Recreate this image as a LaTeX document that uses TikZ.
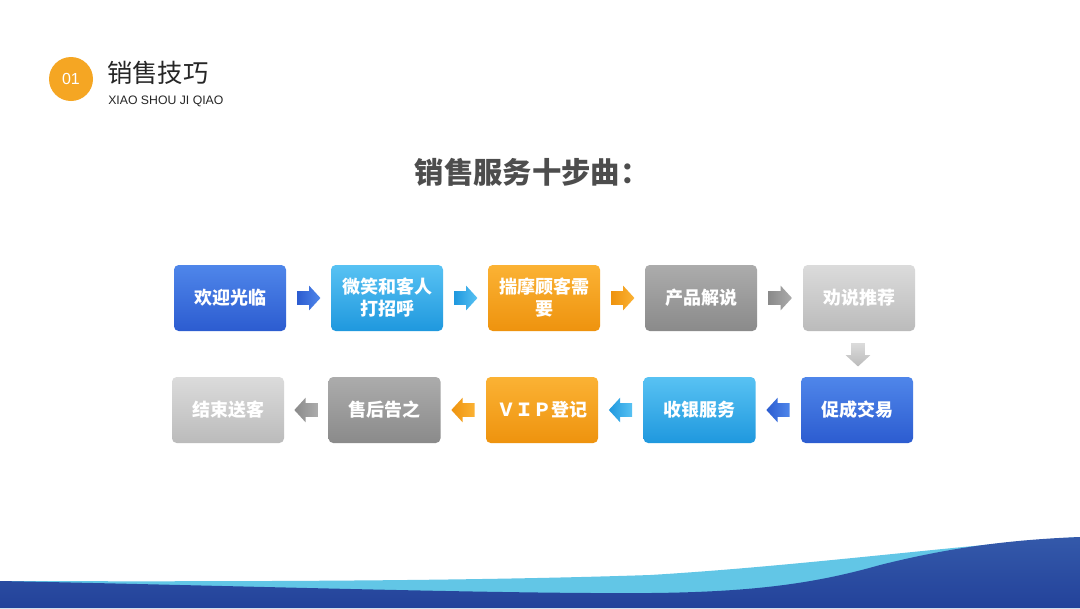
\documentclass[tikz,border=0pt]{standalone}
\usepackage{fontspec}
\setmainfont{Liberation Sans}
\newfontfamily\cjk{Noto Sans CJK SC}
\usetikzlibrary{shapes.arrows,calc}
\definecolor{bA}{HTML}{4F86EA}\definecolor{bB}{HTML}{2C5CD0}
\definecolor{lA}{HTML}{58C2F3}\definecolor{lB}{HTML}{1F98DE}
\definecolor{oA}{HTML}{FBB234}\definecolor{oB}{HTML}{EE930E}
\definecolor{gA}{HTML}{ACACAC}\definecolor{gB}{HTML}{8A8A8A}
\definecolor{hA}{HTML}{DBDBDB}\definecolor{hB}{HTML}{BBBBBB}
\definecolor{titlegray}{HTML}{4D4D4D}
\definecolor{circ}{HTML}{F5A623}
\definecolor{waveDarkA}{HTML}{3459AA}
\definecolor{waveDarkB}{HTML}{23429A}
\definecolor{waveLight}{HTML}{62C6E6}
\tikzset{
  stepbox/.style={rounded corners=3.5pt, minimum width=84pt, minimum height=49.5pt,
    text width=80pt, align=center, inner sep=0pt, text=white,
    font=\cjk\bfseries\fontsize{13.5}{16.5}\selectfont},
  cblue/.style={top color=bA, bottom color=bB},
  clblue/.style={top color=lA, bottom color=lB},
  corange/.style={top color=oA, bottom color=oB},
  cgray/.style={top color=gA, bottom color=gB},
  clgray/.style={top color=hA, bottom color=hB},
  blockarrow/.style={single arrow, minimum height=17.5pt, inner xsep=0pt, inner ysep=5pt,
    single arrow head extend=4pt, single arrow head indent=0pt, single arrow tip angle=95},
  rightarrow/.style={blockarrow, xshift=-2.2pt},
  leftarrow/.style={blockarrow, shape border rotate=180, xshift=2.2pt},
  downarrow/.style={blockarrow, shape border rotate=270, inner xsep=5pt, inner ysep=0pt, yshift=1.8pt},
}
\begin{document}
\begin{tikzpicture}[x=0.75pt,y=-0.75pt]
\useasboundingbox[fill=white] (0,0) rectangle (1080,608);
% bottom wave
\fill[waveLight] (0,581) .. controls (300,582) and (500,580) .. (650,575)
  .. controls (800,566) and (950,546) .. (1080,537) -- (1080,608) -- (0,608) -- cycle;
\shade[top color=waveDarkA, bottom color=waveDarkB] (0,581) .. controls (250,586) and (500,594) .. (650,593)
  .. controls (760,592) and (820,582) .. (880,565)
  .. controls (940,550) and (1000,540) .. (1080,537) -- (1080,608) -- (0,608) -- cycle;
% header
\node[circle, fill=circ, minimum size=33pt, inner sep=0pt, text=white,
  font=\fontsize{12}{14}\selectfont] (num) at (71,79) {01};
\node[anchor=west, inner sep=0pt, text=black!85, font=\cjk\fontsize{19}{22}\selectfont] (head) at (107,73) {销售技巧};
\node[anchor=west, inner sep=0pt, text=black!85, font=\fontsize{9.2}{11}\selectfont] (sub) at (108,101) {XIAO SHOU JI QIAO};
% title
\node[text=titlegray, font=\cjk\bfseries\fontsize{22}{26}\selectfont] (title) at (532,172) {销售服务十步曲：};
% row 1
\node[stepbox, cblue]   (s1) at (230,298) {欢迎光临};
\node[stepbox, clblue]  (s2) at (387,298) {微笑和客人\\打招呼};
\node[stepbox, corange] (s3) at (544,298) {揣摩顾客需\\要};
\node[stepbox, cgray]   (s4) at (701,298) {产品解说};
\node[stepbox, clgray]  (s5) at (859,298) {劝说推荐};
% row 2
\node[stepbox, cblue]   (s6) at (857,410) {促成交易};
\node[stepbox, clblue]  (s7) at (699.5,410) {收银服务};
\node[stepbox, corange] (s8) at (542,410) {ＶＩＰ登记};
\node[stepbox, cgray]   (s9) at (384.5,410) {售后告之};
\node[stepbox, clgray]  (s10) at (228,410) {结束送客};
% arrows
\node[rightarrow, left color=bB, right color=bA] (a1) at ($(s1.east)!0.5!(s2.west)$) {};
\node[rightarrow, left color=lB, right color=lA] (a2) at ($(s2.east)!0.5!(s3.west)$) {};
\node[rightarrow, left color=oB, right color=oA] (a3) at ($(s3.east)!0.5!(s4.west)$) {};
\node[rightarrow, left color=gB, right color=gA] (a4) at ($(s4.east)!0.5!(s5.west)$) {};
\node[downarrow, top color=hA, bottom color=hB] (a5) at ($(s5.south)!0.5!(s6.north)$) {};
\node[leftarrow, left color=bB, right color=bA] (a6) at ($(s6.west)!0.5!(s7.east)$) {};
\node[leftarrow, left color=lB, right color=lA] (a7) at ($(s7.west)!0.5!(s8.east)$) {};
\node[leftarrow, left color=oB, right color=oA] (a8) at ($(s8.west)!0.5!(s9.east)$) {};
\node[leftarrow, left color=gB, right color=gA] (a9) at ($(s9.west)!0.5!(s10.east)$) {};
\end{tikzpicture}
\end{document}
